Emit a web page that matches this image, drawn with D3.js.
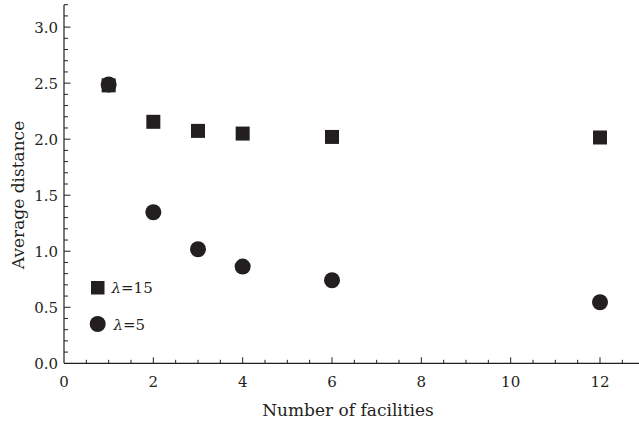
<!DOCTYPE html>
<html>
<head>
<meta charset="utf-8">
<script src="https://cdn.jsdelivr.net/npm/d3@7"></script>
<style>
body { margin: 0; background: #fff; }
text { font-family: "DejaVu Serif", serif; fill: #231f20; }
</style>
</head>
<body>
<script>
// data
var facilities = [1, 2, 3, 4, 6, 12];
var lambda15 = [2.48, 2.155, 2.074, 2.05, 2.02, 2.015];
var lambda5 = [2.488, 1.348, 1.018, 0.863, 0.741, 0.545];
var seriesNames = ["\u03bb=15", "\u03bb=5"];
var xTickVals = [0, 2, 4, 6, 8, 10, 12];
var yTickVals = [0, 0.5, 1, 1.5, 2, 2.5, 3];

var width = 639, height = 423;
var plotLeft = 64, plotBottom = 363.3, plotTop = 4.7;

var svg = d3.select("body").append("svg")
	.attr("width", width)
	.attr("height", height);

var x = d3.scaleLinear().domain([0, 12]).range([plotLeft, 600]);
var y = d3.scaleLinear().domain([0, 3.2]).range([plotBottom, plotTop]);
var ink = "#231f20";

// x axis: major ticks every 2, minor every 0.5, pointing inward
var xAxis = svg.append("g").attr("transform", "translate(0," + plotBottom + ")");
xAxis.append("line")
	.attr("x1", plotLeft).attr("x2", width)
	.attr("stroke", ink).attr("stroke-width", 1.2);
xAxis.selectAll(".minor").data(d3.range(0.5, 12.9, 0.5))
	.enter().append("line")
	.attr("x1", d => x(d)).attr("x2", d => x(d))
	.attr("y1", 0).attr("y2", d => (d % 2 == 0) ? -6 : -3.5)
	.attr("stroke", ink).attr("stroke-width", 1);
xAxis.selectAll(".lab").data(xTickVals)
	.enter().append("text")
	.attr("x", d => x(d)).attr("y", 24)
	.attr("text-anchor", "middle")
	.style("font-size", "15px")
	.text(d => d);

// y axis: major every 0.5, minor every 0.1
var yAxis = svg.append("g").attr("transform", "translate(" + plotLeft + ",0)");
yAxis.append("line")
	.attr("y1", plotTop).attr("y2", plotBottom)
	.attr("stroke", ink).attr("stroke-width", 1.2);
yAxis.selectAll(".minor").data(d3.range(1, 33))
	.enter().append("line")
	.attr("y1", d => y(d / 10)).attr("y2", d => y(d / 10))
	.attr("x1", 0).attr("x2", d => (d % 5 == 0) ? 6.5 : 4)
	.attr("stroke", ink).attr("stroke-width", 1);
yAxis.selectAll(".lab").data(yTickVals)
	.enter().append("text")
	.attr("x", -6).attr("y", d => y(d) + 5.5)
	.attr("text-anchor", "end")
	.style("font-size", "15px")
	.text(d => d3.format(".1f")(d));

// axis titles
svg.append("text")
	.attr("x", 348).attr("y", 416)
	.attr("text-anchor", "middle")
	.style("font-size", "17px")
	.text("Number of facilities");
svg.append("text")
	.attr("transform", "translate(24,195) rotate(-90)")
	.attr("text-anchor", "middle")
	.style("font-size", "17px")
	.text("Average distance");

// squares (lambda = 15)
svg.selectAll(".sq").data(facilities)
	.enter().append("rect")
	.attr("x", (d, i) => x(d) - 7)
	.attr("y", (d, i) => y(lambda15[i]) - 7)
	.attr("width", 14).attr("height", 14)
	.attr("fill", ink);

// circles (lambda = 5)
svg.selectAll(".ci").data(facilities)
	.enter().append("circle")
	.attr("cx", d => x(d))
	.attr("cy", (d, i) => y(lambda5[i]))
	.attr("r", 8)
	.attr("fill", ink);

// legend
var lg = svg.append("g");
lg.append("rect")
	.attr("x", 91).attr("y", 281)
	.attr("width", 13.5).attr("height", 13.5)
	.attr("fill", ink);
lg.append("circle")
	.attr("cx", 97.7).attr("cy", 324)
	.attr("r", 8)
	.attr("fill", ink);
[0, 1].forEach(function(i) {
	var t = lg.append("text")
		.attr("x", i == 0 ? 111.5 : 113.5)
		.attr("y", i == 0 ? 293 : 329.5)
		.style("font-size", "15px");
	t.append("tspan").style("font-style", "italic").text(seriesNames[i].charAt(0));
	t.append("tspan").text(seriesNames[i].slice(1));
});
</script>
</body>
</html>
